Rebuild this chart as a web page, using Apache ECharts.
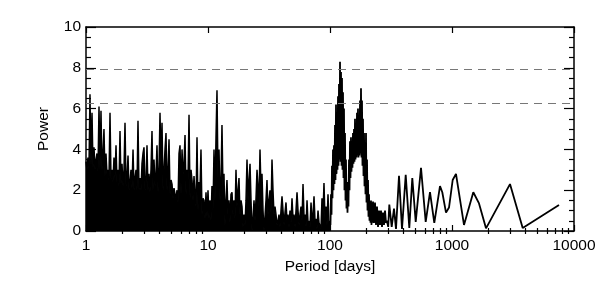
<!DOCTYPE html>
<html>
<head>
<meta charset="utf-8">
<script src="https://cdn.jsdelivr.net/npm/echarts@6/dist/echarts.min.js"></script>
<style>
  html, body { margin: 0; background: #fff; }
  #chart { width: 600px; height: 286px; }
</style>
</head>
<body>
<div id="chart"></div>
<script>
// [period in days, power]

// 1 - 10 days (dense forest, drawn filled)
const shortPeriods = [
  [1.000,3.4],[1.019,3.0],[1.038,3.6],[1.058,3.1],[1.078,6.7],[1.099,3.2],[1.120,5.8],[1.141,3.1],[1.163,4.1],[1.185,3.0],
  [1.208,3.5],[1.231,3.8],[1.254,2.9],[1.278,6.1],[1.302,3.0],[1.327,5.9],[1.352,3.0],[1.378,3.8],[1.404,5.0],[1.431,2.7],
  [1.458,3.8],[1.486,2.8],[1.514,3.0],[1.543,2.5],[1.573,5.8],[1.603,2.5],[1.633,3.0],[1.664,2.4],[1.696,3.6],[1.728,2.6],
  [1.762,4.2],[1.795,2.4],[1.829,3.0],[1.864,2.2],[1.900,4.9],[1.936,2.3],[1.973,3.3],[2.011,2.2],[2.049,3.0],[2.088,5.3],
  [2.128,2.2],[2.168,2.6],[2.210,3.7],[2.252,2.0],[2.295,2.4],[2.338,3.0],[2.383,2.1],[2.429,4.0],[2.475,2.0],[2.522,2.6],
  [2.570,3.0],[2.618,2.0],[2.668,5.4],[2.719,2.0],[2.771,2.6],[2.824,2.0],[2.877,3.3],[2.932,3.8],[2.988,4.1],[3.045,2.0],
  [3.103,2.3],[3.162,4.2],[3.222,2.0],[3.284,2.8],[3.346,1.9],[3.410,3.0],[3.475,4.9],[3.541,2.0],[3.609,3.5],[3.678,2.2],
  [3.748,2.8],[3.819,4.2],[3.892,1.9],[3.966,3.0],[4.042,5.8],[4.119,3.2],[4.198,5.3],[4.278,2.0],[4.359,3.0],[4.442,4.0],
  [4.527,4.8],[4.613,2.0],[4.701,3.0],[4.791,4.5],[4.882,1.8],[4.975,2.5],[5.070,2.3],[5.167,1.6],[5.265,2.1],[5.366,1.8],
  [5.468,1.6],[5.572,2.0],[5.678,1.4],[5.786,3.8],[5.897,4.2],[6.009,1.8],[6.124,4.0],[6.240,2.8],[6.359,3.3],[6.481,4.7],
  [6.604,1.8],[6.730,3.0],[6.858,2.5],[6.989,5.7],[7.122,1.6],[7.258,3.0],[7.396,2.5],[7.536,1.5],[7.679,2.7],[7.825,1.8],
  [7.975,1.2],[8.126,4.6],[8.280,1.0],[8.437,2.4],[8.598,2.0],[8.760,4.0],[8.927,0.8],[9.099,1.6],[9.271,1.5],[9.449,0.6],
  [9.630,1.9],[9.813,0.7]
];

// 10 - 100 days
const midPeriods = [
  [10.00,2.0],[10.19,0.6],[10.38,1.5],[10.58,0.5],[10.78,2.2],[10.99,1.0],[11.20,4.0],[11.41,1.5],[11.63,4.6],[11.85,6.9],
  [12.08,2.5],[12.31,4.0],[12.54,1.5],[12.78,2.5],[13.02,5.2],[13.27,2.0],[13.52,2.8],[13.78,0.3],[14.04,1.5],[14.31,2.5],
  [14.58,0.8],[14.86,1.5],[15.14,0.4],[15.43,1.8],[15.73,1.9],[16.03,0.8],[16.33,1.5],[16.64,0.6],[16.96,3.0],[17.28,1.2],
  [17.62,2.0],[17.95,2.6],[18.29,0.8],[18.64,1.5],[19.00,1.2],[19.36,0.2],[19.73,0.8],[20.11,0.3],[20.49,1.5],[20.88,3.5],
  [21.28,1.5],[21.68,2.5],[22.10,3.3],[22.52,1.5],[22.95,0.0],[23.38,0.6],[23.83,1.5],[24.29,0.5],[24.75,1.6],[25.22,3.0],
  [25.70,2.2],[26.18,1.2],[26.68,4.0],[27.19,2.0],[27.71,2.8],[28.24,1.0],[28.77,0.0],[29.32,0.7],[29.88,1.5],[30.45,2.5],
  [31.03,0.8],[31.62,1.5],[32.22,2.0],[32.84,0.9],[33.46,3.5],[34.10,2.0],[34.75,0.8],[35.41,1.2],[36.09,0.8],[36.78,0.3],
  [37.48,0.5],[38.19,0.8],[38.92,0.2],[39.66,1.0],[40.42,1.7],[41.19,1.0],[41.98,0.3],[42.78,0.9],[43.59,1.4],[44.42,0.5],
  [45.27,0.8],[46.13,0.2],[47.01,1.0],[47.91,0.4],[48.82,1.6],[49.75,0.6],[50.70,0.8],[51.67,0.2],[52.65,1.0],[53.66,1.9],
  [54.68,1.0],[55.72,0.3],[56.78,0.8],[57.86,1.2],[58.97,0.5],[60.09,2.3],[61.24,0.7],[62.40,0.8],[63.59,0.2],[64.81,1.5],
  [66.04,0.4],[67.30,0.5],[68.58,0.2],[69.89,1.4],[71.22,0.5],[72.58,0.8],[73.96,1.7],[75.36,0.5],[76.79,0.6],[78.25,0.1],
  [79.75,1.0],[81.26,0.4],[82.80,0.4],[84.37,0.1],[85.98,1.6],[87.60,0.8],[89.27,2.35],[90.99,0.6],[92.71,1.2],[94.49,0.3],
  [96.30,1.8],[98.13,0.4],[100.0,0.5]
];

// 100 - 225 days, the double peak
const peakBand = [
  [100.0,0.5],[100.9,0.3],[101.9,1.8],[102.9,0.8],[103.8,3.2],[104.8,1.6],[105.8,4.0],[106.8,2.0],
  [107.8,4.2],[108.8,2.3],[109.9,5.2],[110.9,2.5],[112.0,6.2],[113.1,2.8],[114.1,5.5],[115.2,3.0],
  [116.3,6.6],[117.4,3.2],[118.5,7.2],[119.6,3.5],[120.8,8.3],[121.9,3.4],[123.1,7.8],[124.3,3.2],
  [125.4,7.5],[126.6,3.0],[127.8,6.8],[129.0,2.6],[130.2,6.0],[131.4,2.0],[132.7,4.8],[134.0,1.5],
  [135.2,3.5],[136.5,1.1],[137.8,2.4],[139.1,0.9],[140.4,2.0],[141.7,1.2],[143.1,3.5],[144.5,2.0],
  [145.8,4.4],[147.2,2.6],[148.6,4.6],[150.0,2.9],[151.4,4.3],[152.8,3.1],[154.3,4.8],[155.8,3.3],
  [157.3,5.0],[158.8,3.4],[160.3,5.5],[161.8,3.5],[163.3,5.0],[164.9,3.6],[166.4,5.8],[168.0,3.7],
  [169.6,6.0],[171.2,3.6],[172.8,5.0],[174.4,3.7],[176.2,6.4],[177.9,3.8],[179.5,7.0],[181.2,3.6],
  [182.9,6.4],[184.6,3.2],[186.4,5.5],[188.2,2.7],[190.0,4.8],[191.8,2.2],[193.6,4.0],[195.4,1.8],
  [197.3,4.8],[199.2,1.4],[201.1,3.5],[203.0,1.0],[204.9,2.5],[206.8,0.7],[208.8,1.8],[210.8,0.5],
  [212.8,1.2],[214.8,0.4],[216.8,1.5],[218.9,0.3],[221.0,1.4],[223.1,0.4]
];

// 225 days and longer
const longPeriods = [
  [225.2,1.45],[229.5,0.4],[233.8,1.4],[238.3,0.3],[242.9,1.2],[247.5,0.2],[252.2,1.0],[257.0,0.3],
  [261.8,1.0],[266.8,0.2],[271.9,0.9],[277.1,0.3],[282.4,1.0],[287.7,0.4],[293.2,0.5],[300.0,0.2],
  [306.3,1.3],[320.4,0.2],[334.6,1.1],[347.5,0.1],[367.8,2.7],[389.2,0.1],[417.4,2.75],[446.7,0.15],
  [472.7,2.6],[504.2,0.45],[557.1,3.1],[608.7,0.45],[660.1,1.9],[716.0,0.4],[797.3,2.2],[832.6,1.9],
  [893.0,0.9],[945.0,1.15],[1013,2.5],[1078,2.8],[1254,0.3],[1495,1.9],[1665,1.35],[1900,0.13],
  [2988,2.3],[3797,0.15],[7534,1.27]
];

const thresholds = [7.93, 6.26];
const xMajorTicks = [1, 10, 100, 1000, 10000];
const xMinorTicks = [
  2, 3, 4, 5, 6, 7, 8, 9,
  20, 30, 40, 50, 60, 70, 80, 90,
  200, 300, 400, 500, 600, 700, 800, 900,
  2000, 3000, 4000, 5000, 6000, 7000, 8000, 9000
];

const FONT = "'Liberation Sans', Arial, Helvetica, sans-serif";
const AXIS_LINE = { show: true, onZero: false, lineStyle: { color: "#000", width: 1.5 } };

const chart = echarts.init(document.getElementById("chart"));

function xAxisFor(position, ticks, len, withLabels, withLine) {
  return {
    type: "log",
    logBase: 10,
    min: 1,
    max: 10000,
    position: position,
    axisLine: withLine ? AXIS_LINE : { show: false },
    splitLine: { show: false },
    axisTick: {
      show: true,
      inside: true,
      length: len,
      customValues: ticks,
      lineStyle: { color: "#000", width: 1.2 },
    },
    axisLabel: withLabels
      ? {
          show: true,
          customValues: xMajorTicks,
          formatter: (v) => String(Math.round(v)),
          color: "#000",
          fontFamily: FONT,
          fontSize: 15.5,
          margin: 7,
        }
      : { show: false },
    name: withLabels ? "Period [days]" : "",
    nameLocation: "middle",
    nameGap: 27,
    nameTextStyle: { color: "#000", fontFamily: FONT, fontSize: 15.5 },
  };
}

function yAxisFor(position, withLabels) {
  return {
    type: "value",
    min: 0,
    max: 10,
    interval: 2,
    position: position,
    axisLine: AXIS_LINE,
    splitLine: { show: false },
    axisTick: { show: true, inside: true, length: 10, lineStyle: { color: "#000", width: 1.2 } },
    minorTick: { show: true, splitNumber: 4, length: 5, lineStyle: { color: "#000", width: 1.2 } },
    axisLabel: withLabels
      ? { show: true, color: "#000", fontFamily: FONT, fontSize: 15.5, margin: 5 }
      : { show: false },
    name: withLabels ? "Power" : "",
    nameLocation: "middle",
    nameGap: 34,
    nameRotate: 90,
    nameTextStyle: { color: "#000", fontFamily: FONT, fontSize: 15.5 },
  };
}

const option = {
  backgroundColor: "#fff",
  animation: false,
  grid: { left: 86, right: 26, top: 27, bottom: 55 },
  xAxis: [
    xAxisFor("bottom", xMajorTicks, 6, true, true),
    xAxisFor("top", xMajorTicks, 6, false, true),
    xAxisFor("bottom", xMinorTicks, 3, false, false),
    xAxisFor("top", xMinorTicks, 3, false, false),
  ],
  yAxis: [yAxisFor("left", true), yAxisFor("right", false)],
  series: [
    {
      name: "short",
      type: "line",
      data: shortPeriods.concat(midPeriods),
      showSymbol: false,
      lineStyle: { color: "#000", width: 1.5 },
      areaStyle: { color: "#000", opacity: 1 },
      z: 3,
    },
    {
      name: "long",
      type: "line",
      data: peakBand.concat(longPeriods),
      showSymbol: false,
      lineStyle: { color: "#000", width: 1.8 },
      z: 3,
      markLine: {
        silent: true,
        symbol: "none",
        label: { show: false },
        lineStyle: { color: "#777", width: 1, type: [8, 6] },
        data: thresholds.map((t) => ({ yAxis: t })),
      },
    },
  ],
};

chart.setOption(option);
</script>
</body>
</html>
